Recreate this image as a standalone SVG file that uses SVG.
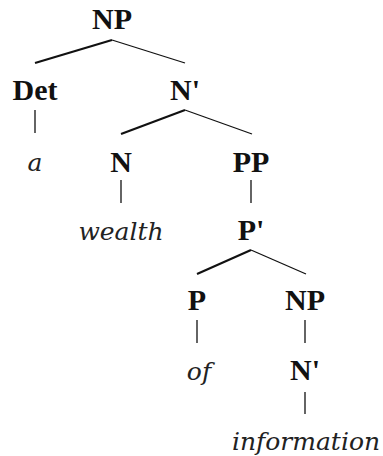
<svg xmlns="http://www.w3.org/2000/svg" width="383" height="456" viewBox="0 0 383 456">
<style>
.cat{font-family:"Liberation Serif","Times New Roman",serif;font-weight:bold;font-size:30px;fill:#111;text-anchor:middle}
.word{font-family:"DejaVu Serif",serif;font-style:italic;font-size:25px;fill:#222;text-anchor:middle}
.e{stroke:#111;stroke-width:1.3;fill:none}
.t{stroke:#111;stroke-width:2.2;fill:none}
</style>
<rect width="383" height="456" fill="#fff"/>
<g id="connectors">
<line class="t" x1="112" y1="40" x2="35" y2="63"/>
<line class="e" x1="112" y1="40" x2="185" y2="63"/>
<line class="e" x1="35" y1="110" x2="35" y2="133"/>
<line class="t" x1="185" y1="110" x2="121" y2="134"/>
<line class="e" x1="185" y1="110" x2="252" y2="134"/>
<line class="e" x1="121" y1="180" x2="121" y2="203"/>
<line class="e" x1="251" y1="180" x2="251" y2="203"/>
<line class="t" x1="251" y1="250" x2="197" y2="274"/>
<line class="e" x1="251" y1="250" x2="306" y2="274"/>
<line class="e" x1="197" y1="320" x2="197" y2="343"/>
<line class="e" x1="305" y1="320" x2="305" y2="343"/>
<line class="e" x1="305" y1="392" x2="305" y2="414"/>
</g>
<g id="np1"><text class="cat" x="112" y="29">NP</text></g>
<g id="det"><text class="cat" x="35" y="100">Det</text></g>
<g id="nbar1"><text class="cat" x="185" y="100">N'</text></g>
<g id="a"><text class="word" x="35" y="171">a</text></g>
<g id="n"><text class="cat" x="121" y="172">N</text></g>
<g id="pp"><text class="cat" x="251" y="172">PP</text></g>
<g id="wealth"><text class="word" x="121" y="240">wealth</text></g>
<g id="pbar"><text class="cat" x="251" y="240">P'</text></g>
<g id="p"><text class="cat" x="197" y="310">P</text></g>
<g id="np2"><text class="cat" x="305" y="310">NP</text></g>
<g id="of"><text class="word" x="199" y="380">of</text></g>
<g id="nbar2"><text class="cat" x="305" y="380">N'</text></g>
<g id="information"><text class="word" x="306" y="450">information</text></g>
</svg>
